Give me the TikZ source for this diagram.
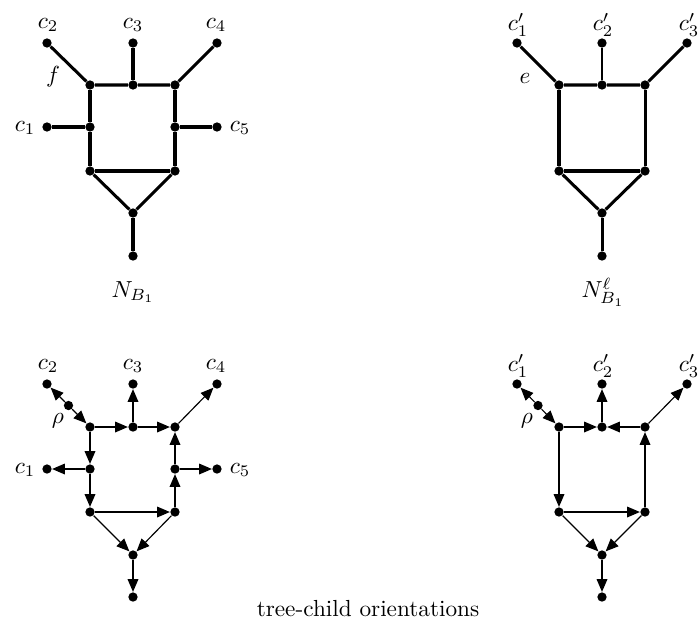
\documentclass[tikz,border=0pt]{standalone}
\usetikzlibrary{arrows.meta}
\begin{document}
\begin{tikzpicture}[x=0.43pt,y=-0.43pt,
 dot/.style={circle,fill,inner sep=0pt,minimum size=4pt},
 tedge/.style={line width=1.3pt},
 nedge/.style={line width=0.5pt},
 arr/.style={-{Triangle[length=5.5pt,width=4.6pt]},line width=0.5pt},
 lbl/.style={inner sep=0pt}]
\useasboundingbox (0,0) rectangle (699,628);

% ---------- top-left: N_{B_1} ----------
\node[dot] (A2) at (47,43) {};
\node[dot] (A3) at (133,43) {};
\node[dot] (A4) at (217,43) {};
\node[dot] (Atl) at (90,85) {};
\node[dot] (Atm) at (133,85) {};
\node[dot] (Atr) at (175,85) {};
\node[dot] (Aml) at (90,127) {};
\node[dot] (Amr) at (175,127) {};
\node[dot] (A1) at (47,127) {};
\node[dot] (A5) at (217,127) {};
\node[dot] (Abl) at (90,171) {};
\node[dot] (Abr) at (175,171) {};
\node[dot] (Aap) at (133,213) {};
\node[dot] (Alf) at (133,256) {};
\draw[tedge] (A2) -- (Atl) -- (Atm) -- (Atr) -- (A4);
\draw[tedge] (Atm) -- (A3);
\draw[tedge] (Atl) -- (Aml) -- (Abl) -- (Abr) -- (Amr) -- (Atr);
\draw[tedge] (Aml) -- (A1);
\draw[tedge] (Amr) -- (A5);
\draw[tedge] (Abl) -- (Aap) -- (Abr);
\draw[tedge] (Aap) -- (Alf);
\node[lbl] (lA2) at (48,25) {$c_2$};
\node[lbl] (lA3) at (133,25) {$c_3$};
\node[lbl] (lA4) at (216,25) {$c_4$};
\node[lbl] (lA1) at (25,128) {$c_1$};
\node[lbl] (lA5) at (240,128) {$c_5$};
\node[lbl] (lAf) at (53,77) {$f$};
\node[lbl] (lAN) at (133,292) {$N_{B_1}$};

% ---------- top-right: N^l_{B_1} ----------
\node[dot] (B1) at (517,43) {};
\node[dot] (B2) at (602,43) {};
\node[dot] (B3) at (687,43) {};
\node[dot] (Btl) at (559,85) {};
\node[dot] (Btm) at (602,85) {};
\node[dot] (Btr) at (645,85) {};
\node[dot] (Bbl) at (559,171) {};
\node[dot] (Bbr) at (645,171) {};
\node[dot] (Bap) at (602,213) {};
\node[dot] (Blf) at (602,256) {};
\draw[tedge] (B1) -- (Btl) -- (Btm) -- (Btr) -- (B3);
\draw[nedge] (Btm) -- (B2);
\draw[tedge] (Btl) -- (Bbl) -- (Bbr) -- (Btr);
\draw[tedge] (Bbl) -- (Bap) -- (Bbr);
\draw[tedge] (Bap) -- (Blf);
\node[lbl] (lB1) at (518,25) {$c'_1$};
\node[lbl] (lB2) at (603,25) {$c'_2$};
\node[lbl] (lB3) at (689,25) {$c'_3$};
\node[lbl] (lBe) at (525,78) {$e$};
\node[lbl] (lBN) at (603,292) {$N^{\ell}_{B_1}$};

% ---------- bottom-left ----------
\node[dot] (C2) at (47,384) {};
\node[dot] (Crho) at (68.5,405.5) {};
\node[dot] (C3) at (133,384) {};
\node[dot] (C4) at (217,384) {};
\node[dot] (Ctl) at (90,427) {};
\node[dot] (Ctm) at (133,427) {};
\node[dot] (Ctr) at (175,427) {};
\node[dot] (Cml) at (90,469) {};
\node[dot] (Cmr) at (175,469) {};
\node[dot] (C1) at (47,469) {};
\node[dot] (C5) at (217,469) {};
\node[dot] (Cbl) at (90,512) {};
\node[dot] (Cbr) at (175,512) {};
\node[dot] (Cap) at (133,555) {};
\node[dot] (Clf) at (133,597) {};
\draw[arr] (Crho) -- (C2);
\draw[arr] (Crho) -- (Ctl);
\draw[arr] (Ctl) -- (Ctm);
\draw[arr] (Ctm) -- (C3);
\draw[arr] (Ctm) -- (Ctr);
\draw[arr] (Ctr) -- (C4);
\draw[arr] (Ctl) -- (Cml);
\draw[arr] (Cml) -- (C1);
\draw[arr] (Cml) -- (Cbl);
\draw[arr] (Cbl) -- (Cbr);
\draw[arr] (Cbr) -- (Cmr);
\draw[arr] (Cmr) -- (Ctr);
\draw[arr] (Cmr) -- (C5);
\draw[arr] (Cbl) -- (Cap);
\draw[arr] (Cbr) -- (Cap);
\draw[arr] (Cap) -- (Clf);
\node[lbl] (lC2) at (48,366) {$c_2$};
\node[lbl] (lC3) at (133,366) {$c_3$};
\node[lbl] (lC4) at (216,366) {$c_4$};
\node[lbl] (lC1) at (25,470) {$c_1$};
\node[lbl] (lC5) at (240,470) {$c_5$};
\node[lbl] (lCr) at (58,421) {$\rho$};

% ---------- bottom-right ----------
\node[dot] (D1) at (517,384) {};
\node[dot] (Drho) at (538,405.5) {};
\node[dot] (D2) at (602,384) {};
\node[dot] (D3) at (687,384) {};
\node[dot] (Dtl) at (559,427) {};
\node[dot] (Dtm) at (602,427) {};
\node[dot] (Dtr) at (645,427) {};
\node[dot] (Dbl) at (559,512) {};
\node[dot] (Dbr) at (645,512) {};
\node[dot] (Dap) at (602,555) {};
\node[dot] (Dlf) at (602,597) {};
\draw[arr] (Drho) -- (D1);
\draw[arr] (Drho) -- (Dtl);
\draw[arr] (Dtl) -- (Dtm);
\draw[arr] (Dtr) -- (Dtm);
\draw[arr] (Dtm) -- (D2);
\draw[arr] (Dtr) -- (D3);
\draw[arr] (Dtl) -- (Dbl);
\draw[arr] (Dbl) -- (Dbr);
\draw[arr] (Dbr) -- (Dtr);
\draw[arr] (Dbl) -- (Dap);
\draw[arr] (Dbr) -- (Dap);
\draw[arr] (Dap) -- (Dlf);
\node[lbl] (lD1) at (518,366) {$c'_1$};
\node[lbl] (lD2) at (603,366) {$c'_2$};
\node[lbl] (lD3) at (689,366) {$c'_3$};
\node[lbl] (lDr) at (527,421) {$\rho$};

\node[lbl] (cap) at (368,609) {tree-child orientations};
\end{tikzpicture}
\end{document}
